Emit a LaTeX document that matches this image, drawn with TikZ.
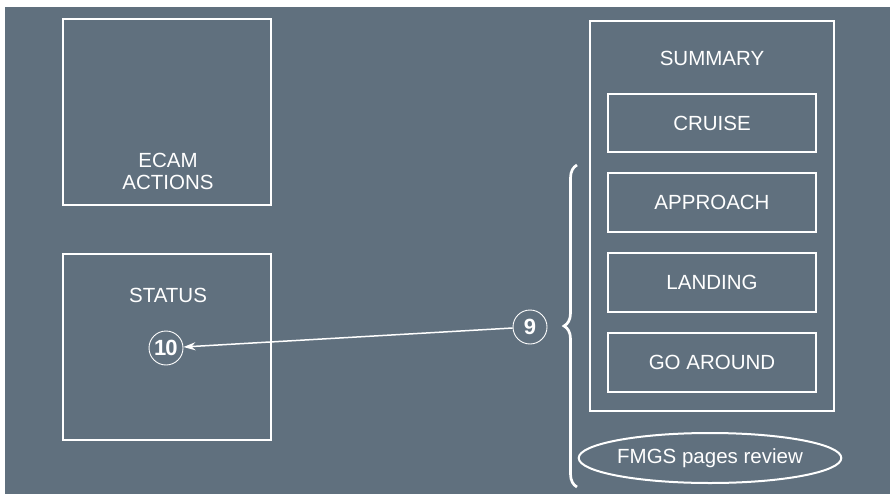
\documentclass[tikz,border=0pt]{standalone}
\usepackage{fontspec}
\setmainfont{Liberation Sans}
\usetikzlibrary{shapes.geometric,arrows.meta,decorations.pathreplacing}
\definecolor{bg}{RGB}{96,112,126}
\begin{document}
\begin{tikzpicture}[x=1pt,y=-1pt,
  txt/.style={text=white, inner sep=0pt, font=\fontsize{20.5}{22}\selectfont},
  bx/.style={draw=white, line width=2pt, inner sep=0pt, text=white, font=\fontsize{20.5}{22}\selectfont},
  num/.style={circle, draw=white, line width=0.9pt, minimum size=34pt, inner sep=0pt, text=white, font=\fontsize{22}{22}\selectfont\bfseries}]
\useasboundingbox (0,0) rectangle (890,494);
\fill[white] (0,0) rectangle (890,494);
\fill[bg] (5,7) rectangle (890,494);
% left boxes
\node[bx, minimum width=208pt, minimum height=186pt] (ecam) at (167,112) {};
\node[txt, align=center] (ecamt) at (168,171) {ECAM\\ACTIONS};
\node[bx, minimum width=208pt, minimum height=186pt] (status) at (167,347) {};
\node[txt] (statust) at (168,295) {STATUS};
\node[num] (n10) at (166,348) {\kern-0.5pt1\kern-1pt0};
\node[num] (n9) at (530,327) {9};
% summary
\node[draw=white, line width=1.3pt, minimum width=244pt, minimum height=390pt, inner sep=0pt] (summ) at (712,216) {};
\node[txt] (summt) at (712,58) {SUMMARY};
\node[bx, minimum width=208pt, minimum height=58pt] (cruise) at (712,123) {CRUISE};
\node[bx, minimum width=208pt, minimum height=59pt] (appr) at (712,202.5) {APPROACH};
\node[bx, minimum width=208pt, minimum height=59pt] (land) at (712,282.5) {LANDING};
\node[bx, minimum width=208pt, minimum height=59pt] (ga) at (712,362.5) {GO AROUND};
\node[ellipse, draw=white, line width=2pt, minimum width=258pt, minimum height=50pt, inner sep=0pt, text=white, font=\fontsize{20.5}{22}\selectfont] (fmgs) at (710,458) {FMGS pages review};
% brace
\coordinate (bb) at (577,487);
\coordinate (bt) at (577,165);
\draw[white, line width=2.7pt, decorate, decoration={brace, amplitude=13pt}] (bb) -- (bt);
% arrow
\draw[white, line width=1.5pt, -{Stealth[length=12pt,width=8pt]}] (n9) -- (n10);
\end{tikzpicture}
\end{document}
